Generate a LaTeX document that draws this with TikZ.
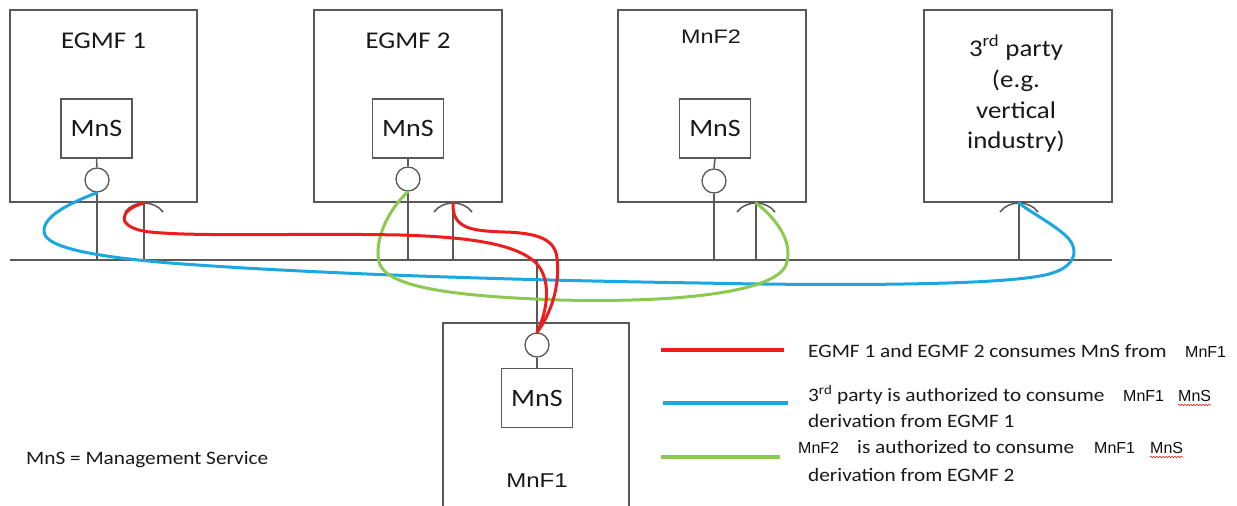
\documentclass[tikz,border=0pt]{standalone}
\usepackage{fontspec}
\setmainfont{Carlito}
\newfontfamily\calfnt[FakeStretch=1.12]{Carlito}
\newfontfamily\arifnt[FakeStretch=1.2]{Liberation Sans}
\newfontfamily\arilfnt{Liberation Sans}
\usetikzlibrary{calc,decorations.pathmorphing}
\definecolor{lgray}{HTML}{595959}
\definecolor{cred}{HTML}{EE1C1C}
\definecolor{cblue}{HTML}{1BA8E0}
\definecolor{cgreen}{HTML}{8DC850}
\tikzset{
  fbox/.style={draw=lgray, line width=1.5pt, rectangle, inner sep=0pt},
  mns/.style={draw=lgray, line width=1.4pt, rectangle, inner sep=0pt,
    minimum width=71pt, minimum height=59pt, font=\calfnt\fontsize{25}{29}\selectfont, text=black!90},
  port/.style={circle, draw=lgray, line width=1.3pt, minimum size=24pt, inner sep=0pt},
  wire/.style={draw=lgray, line width=1.5pt},
  title/.style={anchor=base, inner sep=0pt, font=\calfnt\fontsize{24}{28}\selectfont, text=black!90},
  atitle/.style={anchor=base, inner sep=0pt, font=\arifnt\fontsize{19.5}{23}\selectfont, text=black!90},
  legtext/.style={anchor=base west, inner sep=0pt, font=\calfnt\fontsize{19}{22}\selectfont, text=black!90},
  legari/.style={anchor=base west, inner sep=0pt, font=\arilfnt\fontsize{16}{19}\selectfont, text=black!95},
  flow/.style={line width=3pt, line cap=round},
  legline/.style={line width=3.5pt},
  squiggle/.style={draw=cred, line width=0.6pt, decorate,
    decoration={snake, amplitude=0.8pt, segment length=3pt}}
}
\newcommand\archat[1]{%
  \draw[wire] ($(#1)+(-19,9)$) .. controls ($(#1)+(-10,-3)$) and ($(#1)+(10,-3)$) .. ($(#1)+(19,9)$);}
\begin{document}
\begin{tikzpicture}[x=1pt,y=-1pt]
\useasboundingbox (0,0) rectangle (1237,506);
\fill[white] (0,0) rectangle (1237,506);

% outer boxes
\node[fbox, minimum width=187pt, minimum height=192pt] (egmf1) at (103.5,106) {};
\node[fbox, minimum width=188pt, minimum height=192pt] (egmf2) at (408,106) {};
\node[fbox, minimum width=188pt, minimum height=192pt] (mnf2) at (712,106) {};
\node[fbox, minimum width=188pt, minimum height=192pt] (third) at (1018,106) {};
\begin{scope}
  \clip (0,0) rectangle (1237,506);
  \node[fbox, minimum width=186pt, minimum height=230pt] (mnf1) at (536,438) {};
\end{scope}

% titles
\node[title] (t1) at (103.5,48) {EGMF 1};
\node[title] (t2) at (408,48) {EGMF 2};
\node[atitle] (t3) at (711,43) {MnF2};
\node[title] (t4a) at (1016,56) {3\textsuperscript{rd} party};
\node[title] (t4b) at (1016,87) {(e.g.};
\node[title] (t4c) at (1016,118) {vertical};
\node[title] (t4d) at (1016,148) {industry)};
\node[atitle, font=\arifnt\fontsize{20}{24}\selectfont] (t5) at (537,487) {MnF1};

% MnS boxes and ports
\node[mns] (m1) at (96.5,128.5) {MnS};
\node[mns] (m2) at (408,128.5) {MnS};
\node[mns] (m3) at (715,128.5) {MnS};
\node[mns] (m4) at (537,398) {MnS};
\node[port] (p1) at (97,180) {};
\node[port] (p2) at (408,179) {};
\node[port] (p3) at (714,181) {};
\node[port] (p4) at (537,345) {};

% bus and consumer marks
\coordinate (bl) at (10,260);
\coordinate (br) at (1112,260);
\coordinate (a1) at (144,203);
\coordinate (a2) at (453,203);
\coordinate (a3) at (756,203);
\coordinate (a4) at (1019,203);

\draw[wire] (bl) -- (br);
\foreach \m/\p in {m1/p1,m2/p2,m3/p3}{
  \draw[wire] (\m.south) -- (\p.north);
  \draw[wire] (\p.south) -- (\p.south |- bl);
}
\draw[wire] (p4.north) -- (p4.north |- bl);
\draw[wire] (p4.south) -- (m4.north);
\foreach \a in {a1,a2,a3,a4}{
  \draw[wire] (\a) -- (\a |- bl);
  \archat{\a}
}

% coloured flows
\draw[flow, cblue] (p1.south) .. controls (70,203) and (38,218) .. (45,235)
  .. controls (52,250) and (110,258) .. (170,263)
  .. controls (300,273) and (500,280) .. (700,283)
  .. controls (850,286) and (1000,285) .. (1045,275)
  .. controls (1078,268) and (1080,248) .. (1065,235)
  .. controls (1050,222) and (1030,212) .. (a4);
\draw[flow, cgreen] (p2.south) .. controls (388,210) and (374,240) .. (379,262)
  .. controls (385,285) and (440,296) .. (560,300)
  .. controls (680,303) and (775,292) .. (786,265)
  .. controls (795,240) and (772,215) .. (a3);
\draw[flow, cred] (p4.north) .. controls (548,310) and (552,278) .. (535,262)
  .. controls (515,244) and (470,237) .. (400,235)
  .. controls (300,233) and (200,237) .. (150,232)
  .. controls (115,228) and (118,210) .. (a1);
\draw[flow, cred] (p4.north) .. controls (552,312) and (560,285) .. (557,258)
  .. controls (555,238) and (535,233) .. (505,232)
  .. controls (470,231) and (452,228) .. (a2);

% legend
\coordinate (lr1) at (661,350); \coordinate (lr2) at (784,350);
\coordinate (lb1) at (663,403); \coordinate (lb2) at (788,403);
\coordinate (lg1) at (661,457); \coordinate (lg2) at (780,457);
\draw[legline, cred] (lr1) -- (lr2);
\draw[legline, cblue] (lb1) -- (lb2);
\draw[legline, cgreen] (lg1) -- (lg2);

\node[legtext] (r1) at (808,357) {EGMF 1 and EGMF 2 consumes MnS from};
\node[legari] (r2) at (1185,357) {MnF1};
\node[legtext] (b1) at (808,401) {3\textsuperscript{rd} party is authorized to consume};
\node[legari] (b2) at (1123,401) {MnF1};
\node[legari] (b3) at (1178,401) {MnS};
\node[legtext] (b4) at (808,427) {derivation from EGMF 1};
\node[legari] (g1) at (798,453) {MnF2};
\node[legtext] (g2) at (857,453) {is authorized to consume};
\node[legari] (g3) at (1094,453) {MnF1};
\node[legari] (g4) at (1150,453) {MnS};
\node[legtext] (g5) at (808,481) {derivation from EGMF 2};
\draw[squiggle] ($(b3.base west)+(0,4)$) -- ($(b3.base east)+(0,4)$);
\draw[squiggle] ($(g4.base west)+(0,4)$) -- ($(g4.base east)+(0,4)$);

\node[legtext] (key) at (26,464) {MnS = Management Service};
\end{tikzpicture}
\end{document}
